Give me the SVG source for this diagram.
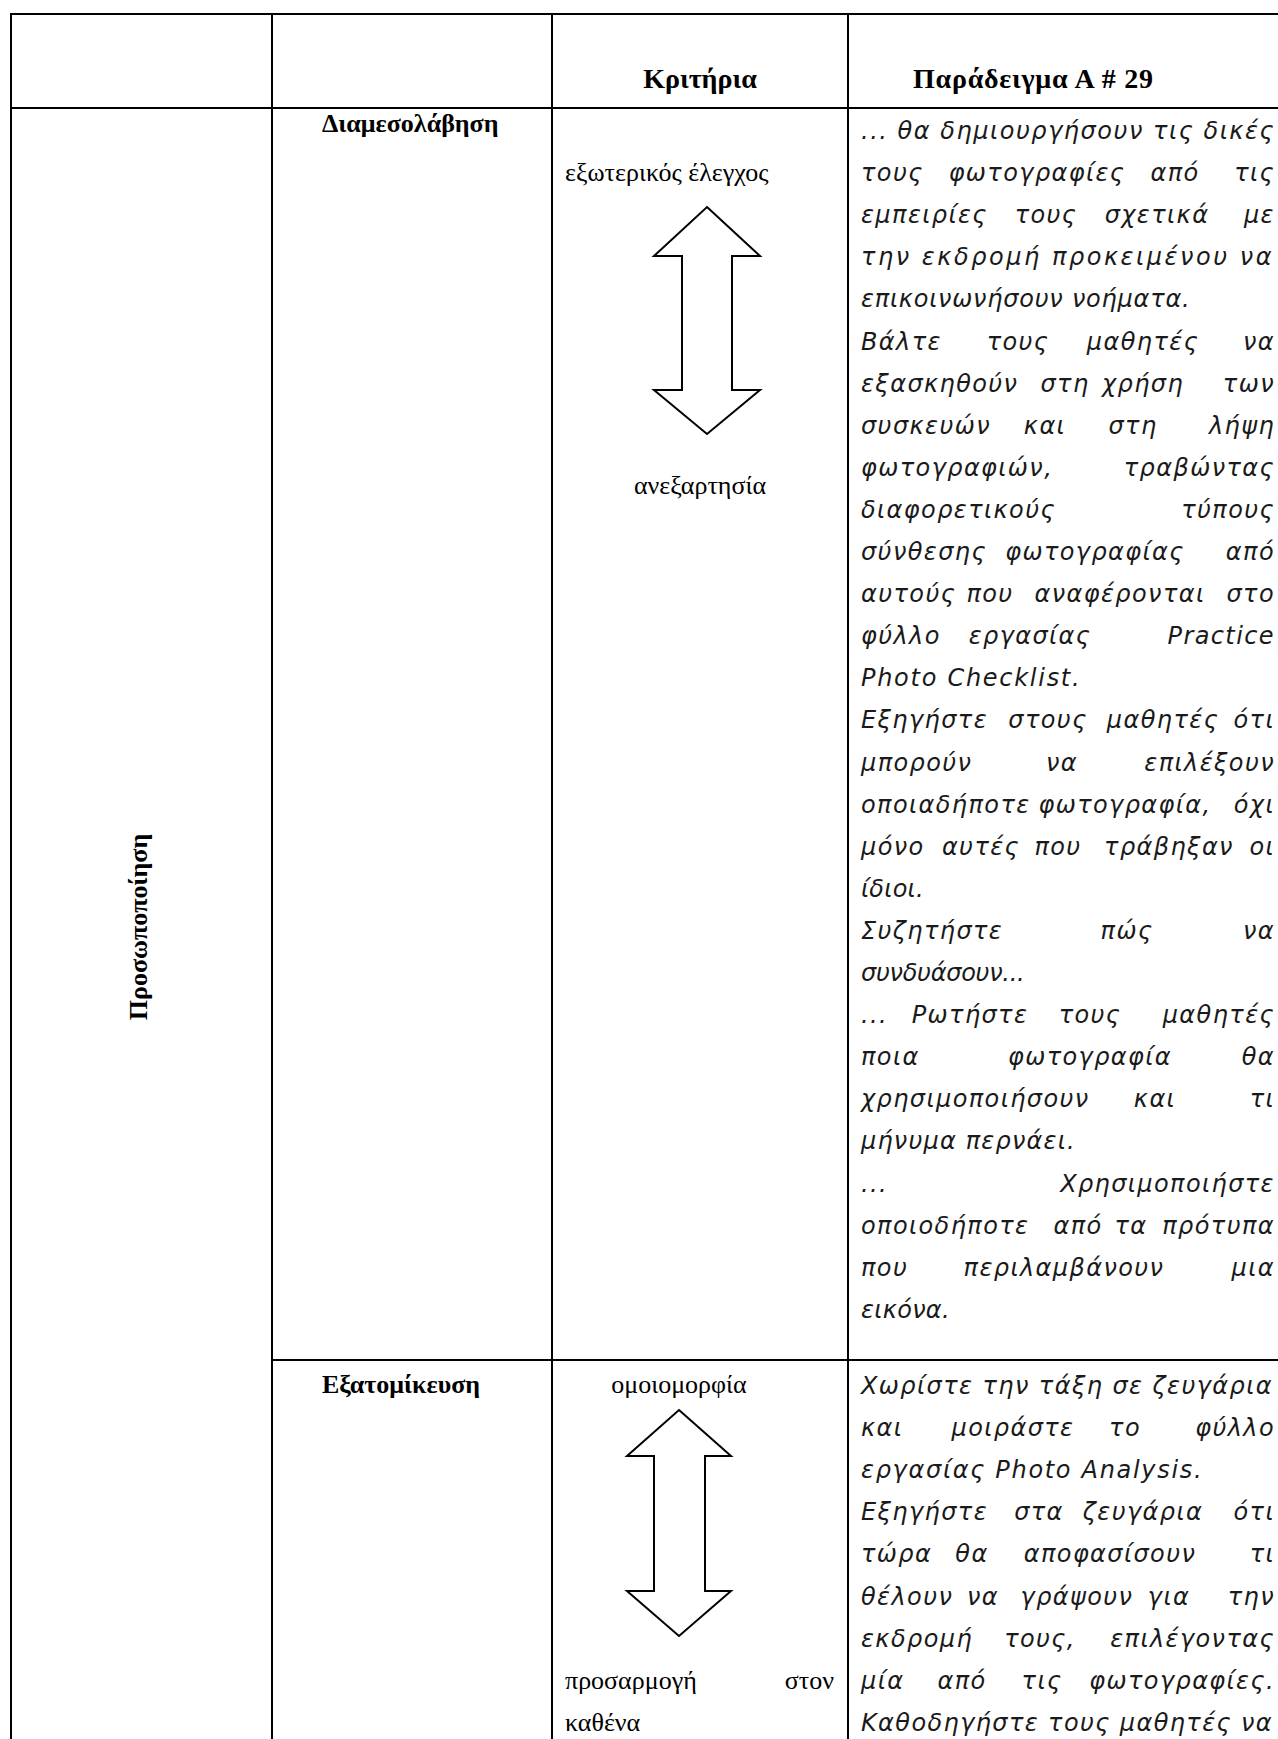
<svg xmlns="http://www.w3.org/2000/svg" width="1278" height="1739" viewBox="0 0 1278 1739">
  <style>
    .grid { stroke: #000; stroke-width: 2; fill: none; }
    .hd { font-family: "Liberation Serif", "Times New Roman", serif; font-weight: bold; font-size: 28px; fill: #000; }
    .lb { font-family: "Liberation Serif", "Times New Roman", serif; font-weight: bold; font-size: 26px; fill: #000; }
    .tr { font-family: "Liberation Serif", "Times New Roman", serif; font-size: 26px; fill: #000; }
    .hw { font-family: "DejaVu Sans", "Noto Sans", sans-serif; font-style: italic; font-size: 24px; letter-spacing: 1.4px; fill: #1a1a1a; }
    .arrow { fill: #fff; stroke: #000; stroke-width: 2; stroke-linejoin: miter; }
    .m { text-anchor: middle; }
    .e { text-anchor: end; }
  </style>

  <rect width="1278" height="1739" fill="#fff"/>

  <!-- table rules -->
  <g id="table-grid" class="grid">
    <line x1="10" y1="14" x2="1278" y2="14"/>
    <line x1="11" y1="108" x2="1278" y2="108"/>
    <line x1="272" y1="1360" x2="1278" y2="1360"/>
    <line x1="11" y1="13" x2="11" y2="1739"/>
    <line x1="272" y1="13" x2="272" y2="1739"/>
    <line x1="552" y1="13" x2="552" y2="1739"/>
    <line x1="848" y1="13" x2="848" y2="1739"/>
  </g>

  <!-- header row -->
  <g id="header">
    <text class="hd m" x="700" y="88">Κριτήρια</text>
    <text class="hd" x="913" y="88" textLength="240" lengthAdjust="spacing">Παράδειγμα Α # 29</text>
  </g>

  <!-- merged first column -->
  <g id="dimension-label">
    <text class="lb m" transform="translate(147,927) rotate(-90)" x="0" y="0">Προσωποποίηση</text>
  </g>

  <!-- row 1: mediation -->
  <g id="row-mediation">
    <text class="lb" x="322" y="132">Διαμεσολάβηση</text>
    <text class="tr" x="565" y="181">εξωτερικός έλεγχος</text>
    <polygon class="arrow" points="707,207 760,256 732,256 732,390 760,390 707,434 654,390 682,390 682,256 654,256"/>
    <text class="tr m" x="700" y="494">ανεξαρτησία</text>

    <g id="example-mediation" class="hw">
      <text x="861" y="139" textLength="414" lengthAdjust="spacing">... θα δημιουργήσουν τις δικές</text>
      <text y="181.1"><tspan x="861">τους</tspan><tspan class="m" x="1037">φωτογραφίες</tspan><tspan class="m" x="1175">από</tspan><tspan class="e" x="1275">τις</tspan></text>
      <text y="223.2"><tspan x="861">εμπειρίες</tspan><tspan class="m" x="1046">τους</tspan><tspan class="m" x="1157">σχετικά</tspan><tspan class="e" x="1275">με</tspan></text>
      <text x="861" y="265.3" textLength="412" lengthAdjust="spacing">την εκδρομή προκειμένου να</text>
      <text x="861" y="307.4" textLength="330" lengthAdjust="spacing">επικοινωνήσουν νοήματα.</text>
      <text y="349.5"><tspan x="861">Βάλτε</tspan><tspan class="m" x="1018">τους</tspan><tspan class="m" x="1143">μαθητές</tspan><tspan class="e" x="1275">να</tspan></text>
      <text y="391.6"><tspan x="861">εξασκηθούν</tspan><tspan class="m" x="1065">στη</tspan><tspan class="m" x="1143">χρήση</tspan><tspan class="e" x="1275">των</tspan></text>
      <text y="433.7"><tspan x="861">συσκευών</tspan><tspan class="m" x="1045">και</tspan><tspan class="m" x="1133">στη</tspan><tspan class="e" x="1275">λήψη</tspan></text>
      <text y="475.8"><tspan x="861">φωτογραφιών,</tspan><tspan class="e" x="1275">τραβώντας</tspan></text>
      <text y="517.9"><tspan x="861">διαφορετικούς</tspan><tspan class="e" x="1275">τύπους</tspan></text>
      <text y="560"><tspan x="861">σύνθεσης</tspan><tspan class="m" x="1095">φωτογραφίας</tspan><tspan class="e" x="1275">από</tspan></text>
      <text y="602.1"><tspan x="861">αυτούς</tspan><tspan class="m" x="990">που</tspan><tspan class="m" x="1120">αναφέρονται</tspan><tspan class="e" x="1275">στο</tspan></text>
      <text y="644.2"><tspan x="861">φύλλο</tspan><tspan class="m" x="1030">εργασίας</tspan><tspan class="e" x="1275">Practice</tspan></text>
      <text x="861" y="686.3" textLength="220" lengthAdjust="spacing">Photo Checklist.</text>
      <text y="728.4"><tspan x="861">Εξηγήστε</tspan><tspan class="m" x="1048">στους</tspan><tspan class="m" x="1163">μαθητές</tspan><tspan class="e" x="1275">ότι</tspan></text>
      <text y="770.5"><tspan x="861">μπορούν</tspan><tspan class="m" x="1062">να</tspan><tspan class="e" x="1275">επιλέξουν</tspan></text>
      <text y="812.6"><tspan x="861">οποιαδήποτε</tspan><tspan class="m" x="1125">φωτογραφία,</tspan><tspan class="e" x="1275">όχι</tspan></text>
      <text y="854.7"><tspan x="861">μόνο</tspan><tspan class="m" x="981">αυτές</tspan><tspan class="m" x="1058">που</tspan><tspan class="m" x="1169">τράβηξαν</tspan><tspan class="e" x="1275">οι</tspan></text>
      <text x="861" y="896.8" textLength="64" lengthAdjust="spacing">ίδιοι.</text>
      <text y="938.9"><tspan x="861">Συζητήστε</tspan><tspan class="m" x="1127">πώς</tspan><tspan class="e" x="1275">να</tspan></text>
      <text x="861" y="981" textLength="165" lengthAdjust="spacing">συνδυάσουν...</text>
      <text y="1023.1"><tspan x="861">...</tspan><tspan class="m" x="970">Ρωτήστε</tspan><tspan class="m" x="1090">τους</tspan><tspan class="e" x="1275">μαθητές</tspan></text>
      <text y="1065.2"><tspan x="861">ποια</tspan><tspan class="m" x="1090">φωτογραφία</tspan><tspan class="e" x="1275">θα</tspan></text>
      <text y="1107.3"><tspan x="861">χρησιμοποιήσουν</tspan><tspan class="m" x="1155">και</tspan><tspan class="e" x="1275">τι</tspan></text>
      <text x="861" y="1149.4" textLength="215" lengthAdjust="spacing">μήνυμα περνάει.</text>
      <text y="1191.5"><tspan x="861">...</tspan><tspan class="e" x="1275">Χρησιμοποιήστε</tspan></text>
      <text y="1233.6"><tspan x="861">οποιοδήποτε</tspan><tspan class="m" x="1078">από</tspan><tspan class="m" x="1131">τα</tspan><tspan class="e" x="1275">πρότυπα</tspan></text>
      <text y="1275.7"><tspan x="861">που</tspan><tspan class="m" x="1064">περιλαμβάνουν</tspan><tspan class="e" x="1275">μια</tspan></text>
      <text x="861" y="1317.8" textLength="90" lengthAdjust="spacing">εικόνα.</text>
    </g>
  </g>

  <!-- row 2: individualisation -->
  <g id="row-individualisation">
    <text class="lb" x="322" y="1393">Εξατομίκευση</text>
    <text class="tr m" x="679" y="1393">ομοιομορφία</text>
    <polygon class="arrow" points="679,1410 731,1456 705,1456 705,1591 731,1591 679,1636 627,1591 654,1591 654,1456 627,1456"/>
    <text class="tr" x="565" y="1689">προσαρμογή</text>
    <text class="tr e" x="834" y="1689">στον</text>
    <text class="tr" x="565" y="1731">καθένα</text>

    <g id="example-individualisation" class="hw">
      <text x="861" y="1393.5" textLength="412" lengthAdjust="spacing">Χωρίστε την τάξη σε ζευγάρια</text>
      <text y="1435.7"><tspan x="861">και</tspan><tspan class="m" x="1013">μοιράστε</tspan><tspan class="m" x="1125">το</tspan><tspan class="e" x="1275">φύλλο</tspan></text>
      <text x="861" y="1477.9" textLength="342" lengthAdjust="spacing">εργασίας Photo Analysis.</text>
      <text y="1520.1"><tspan x="861">Εξηγήστε</tspan><tspan class="m" x="1039">στα</tspan><tspan class="m" x="1143">ζευγάρια</tspan><tspan class="e" x="1275">ότι</tspan></text>
      <text y="1562.3"><tspan x="861">τώρα</tspan><tspan class="m" x="972">θα</tspan><tspan class="m" x="1110">αποφασίσουν</tspan><tspan class="e" x="1275">τι</tspan></text>
      <text y="1604.5"><tspan x="861">θέλουν</tspan><tspan class="m" x="983">να</tspan><tspan class="m" x="1077">γράψουν</tspan><tspan class="m" x="1169">για</tspan><tspan class="e" x="1275">την</tspan></text>
      <text y="1646.7"><tspan x="861">εκδρομή</tspan><tspan class="m" x="1040">τους,</tspan><tspan class="e" x="1275">επιλέγοντας</tspan></text>
      <text y="1688.9"><tspan x="861">μία</tspan><tspan class="m" x="962">από</tspan><tspan class="m" x="1042">τις</tspan><tspan class="e" x="1275">φωτογραφίες.</tspan></text>
      <text x="861" y="1731.1" textLength="412" lengthAdjust="spacing">Καθοδηγήστε τους μαθητές να</text>
    </g>
  </g>
</svg>
